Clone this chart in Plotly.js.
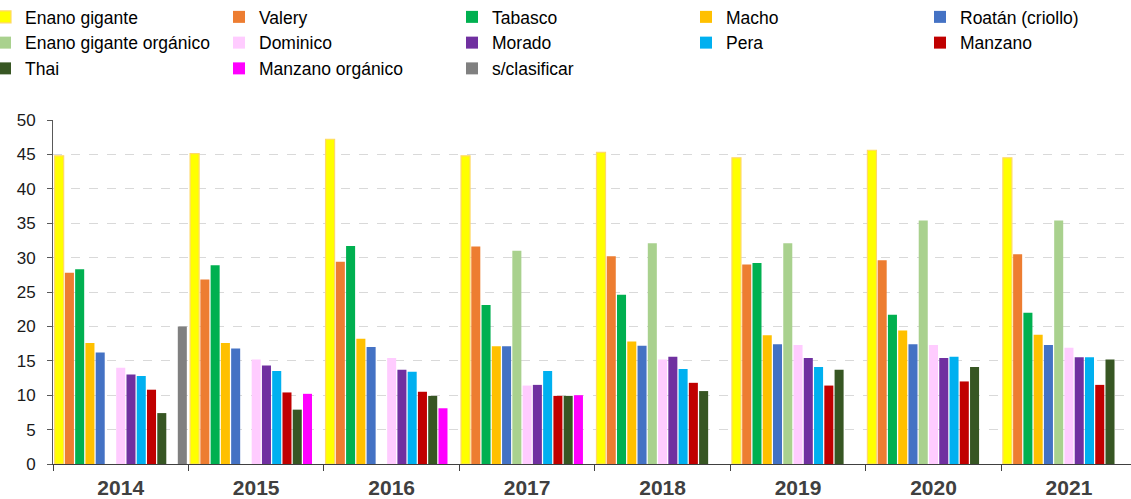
<!DOCTYPE html>
<html>
<head>
<meta charset="utf-8">
<script src="https://cdn.plot.ly/plotly-3.0.1.min.js"></script>
<style>
  html, body { margin: 0; padding: 0; background: #ffffff; }
  #chart { width: 1131px; height: 499px; }
</style>
</head>
<body>
<div id="chart"></div>
<script>
// Years on the category axis
const years = ['2014', '2015', '2016', '2017', '2018', '2019', '2020', '2021'];

// Series names, in plotting order
const seriesNames = [
  'Enano gigante', 'Valery', 'Tabasco', 'Macho', 'Roatán (criollo)',
  'Enano gigante orgánico', 'Dominico', 'Morado', 'Pera', 'Manzano',
  'Thai', 'Manzano orgánico', 's/clasificar'
];

// Values per series (null = no data for that year)
const enanoGigante        = [44.8, 45.1, 47.2, 44.8, 45.3, 44.5, 45.6, 44.5];
const valery              = [27.8, 26.8, 29.4, 31.6, 30.2, 29.0, 29.6, 30.5];
const tabasco             = [28.3, 28.9, 31.7, 23.1, 24.6, 29.2, 21.7, 22.0];
const macho               = [17.6, 17.6, 18.2, 17.1, 17.8, 18.7, 19.4, 18.8];
const roatan              = [16.2, 16.8, 17.0, 17.1, 17.2, 17.4, 17.4, 17.3];
const enanoGiganteOrg     = [null, null, null, 31.0, 32.1, 32.1, 35.4, 35.4];
const dominico            = [14.0, 15.2, 15.4, 11.4, 15.2, 17.3, 17.3, 16.9];
const morado              = [13.0, 14.3, 13.7, 11.5, 15.6, 15.4, 15.4, 15.5];
const pera                = [12.8, 13.5, 13.4, 13.5, 13.8, 14.1, 15.6, 15.5];
const manzano             = [10.8, 10.4, 10.5, 9.9, 11.8, 11.4, 12.0, 11.5];
const thai                = [7.4, 7.9, 9.9, 9.9, 10.6, 13.7, 14.1, 15.2];
const manzanoOrg          = [null, 10.2, 8.1, 10.0, null, null, null, null];
const sinClasificar       = [20.0, null, null, null, null, null, null, null];

const seriesValues = [
  enanoGigante, valery, tabasco, macho, roatan, enanoGiganteOrg,
  dominico, morado, pera, manzano, thai, manzanoOrg, sinClasificar
];

const seriesColors = [
  '#FFFF00', '#ED7D31', '#00B050', '#FFC000', '#4472C4', '#A9D18E',
  '#FFCCFF', '#7030A0', '#00B0F0', '#C00000', '#375623', '#FF00FF', '#808080'
];

// Legend is laid out as five columns, one legend box per column
const legendIds = ['legend', 'legend2', 'legend3', 'legend4', 'legend5'];
const legendLeftPx = [-15, 219, 452, 686, 920];
const W = 1131, H = 499;
const M = { l: 53, r: 0, t: 120, b: 35 };
const plotW = W - M.l - M.r, plotH = H - M.t - M.b;

const traces = seriesNames.map((name, i) => ({
  type: 'bar',
  name: name,
  x: years,
  y: seriesValues[i],
  legend: legendIds[i % 5],
  marker: {
    color: seriesColors[i],
    line: i === 0 ? { color: '#FFD966', width: 1.2 } : { width: 0 }
  },
  hoverinfo: 'skip'
}));

const legendFont = { family: 'Liberation Sans, Arial, sans-serif', size: 17.5, color: '#000000' };

const layout = {
  width: W,
  height: H,
  paper_bgcolor: '#ffffff',
  plot_bgcolor: '#ffffff',
  margin: { l: M.l, r: M.r, t: M.t, b: M.b, autoexpand: false },
  barmode: 'group',
  bargap: 0.015,
  bargroupgap: 0.12,
  font: { family: 'Liberation Sans, Arial, sans-serif', color: '#000000' },
  xaxis: {
    type: 'category',
    range: [-0.5, 7.458],
    tickson: 'boundaries',
    ticks: 'outside',
    ticklen: 6,
    tickwidth: 1,
    tickcolor: '#404040',
    showline: true,
    linecolor: '#404040',
    linewidth: 1,
    showgrid: false,
    ticklabelstandoff: 5,
    tickfont: { family: 'Liberation Sans, Arial, sans-serif', size: 21, color: '#404040', weight: 'bold' }
  },
  yaxis: {
    range: [0, 50],
    dtick: 5,
    ticks: 'outside',
    ticklen: 5,
    tickcolor: '#595959',
    showline: true,
    linecolor: '#595959',
    linewidth: 1,
    showgrid: true,
    gridcolor: '#D9D9D9',
    griddash: 'dash',
    gridwidth: 1,
    zeroline: false,
    ticklabelstandoff: 8,
    tickfont: { family: 'Liberation Sans, Arial, sans-serif', size: 17, color: '#1a1a1a' }
  },
  showlegend: true
};

legendIds.forEach((id, k) => {
  layout[id] = {
    orientation: 'v',
    xref: 'paper',
    yref: 'paper',
    x: (legendLeftPx[k] - M.l) / plotW,
    y: (plotH + M.t + 1) / plotH,
    xanchor: 'left',
    yanchor: 'top',
    bgcolor: 'rgba(0,0,0,0)',
    borderwidth: 0,
    tracegroupgap: 0,
    font: legendFont
  };
});

Plotly.newPlot('chart', traces, layout, { displayModeBar: false, staticPlot: true });
</script>
</body>
</html>
